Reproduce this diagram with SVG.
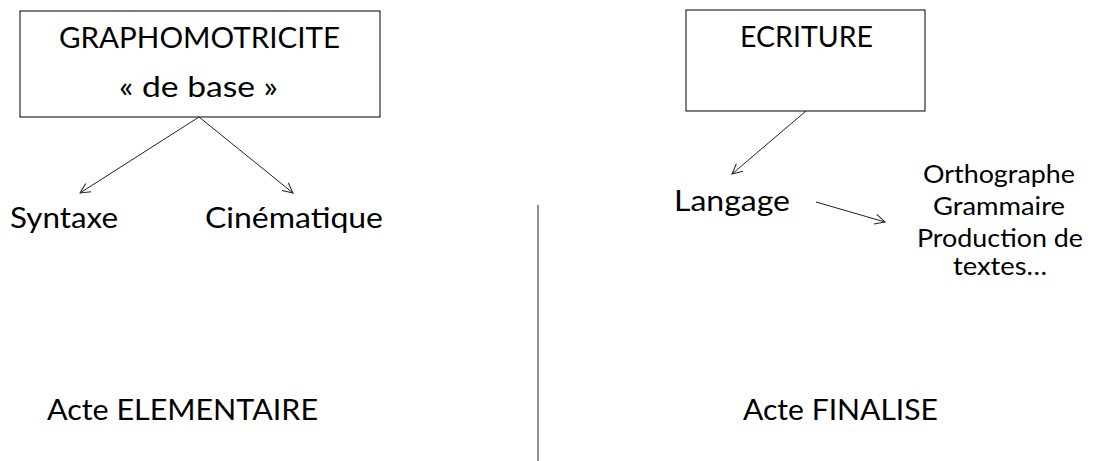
<svg xmlns="http://www.w3.org/2000/svg" width="1095" height="461" viewBox="0 0 1095 461">
<style>
text{font-family:Lato,"Open Sans","Liberation Sans",sans-serif;fill:#000}
.b{font-size:28.5px}
.s{font-size:25.5px}
.box{fill:#fff;stroke:#000;stroke-width:1}
.c{stroke:#222;stroke-width:1;fill:none}
</style>
<defs>
<marker id="ah" viewBox="0 0 12 12" refX="11" refY="6" markerWidth="12" markerHeight="12" markerUnits="userSpaceOnUse" orient="auto">
<path d="M1,1 L11,6 L1,11" fill="none" stroke="#222" stroke-width="1"/>
</marker>
</defs>
<rect width="1095" height="461" fill="#fff"/>
<g id="graphomotricite">
<rect class="box" x="20" y="11" width="360" height="106"/>
<text class="b" x="59" y="48" textLength="281" lengthAdjust="spacingAndGlyphs">GRAPHOMOTRICITE</text>
<text class="b" x="119" y="97" textLength="159" lengthAdjust="spacingAndGlyphs">« de base »</text>
</g>
<g id="syntaxe"><text class="b" x="10" y="228" textLength="108" lengthAdjust="spacingAndGlyphs">Syntaxe</text></g>
<g id="cinematique"><text class="b" x="205" y="228" textLength="178" lengthAdjust="spacingAndGlyphs">Cinématique</text></g>
<g id="ecriture">
<rect class="box" x="686" y="10" width="239" height="101"/>
<text class="b" x="740" y="47" textLength="133" lengthAdjust="spacingAndGlyphs">ECRITURE</text>
</g>
<g id="langage"><text class="b" x="674" y="211" textLength="116" lengthAdjust="spacingAndGlyphs">Langage</text></g>
<g id="liste">
<text class="s" x="923" y="183" textLength="152" lengthAdjust="spacingAndGlyphs">Orthographe</text>
<text class="s" x="933" y="215" textLength="132" lengthAdjust="spacingAndGlyphs">Grammaire</text>
<text class="s" x="917" y="247" textLength="166" lengthAdjust="spacingAndGlyphs">Production de</text>
<text class="s" x="953" y="275" textLength="94" lengthAdjust="spacingAndGlyphs">textes…</text>
</g>
<g id="acte-elementaire"><text class="b" x="47" y="420" textLength="271" lengthAdjust="spacingAndGlyphs">Acte ELEMENTAIRE</text></g>
<g id="acte-finalise"><text class="b" x="743" y="420" textLength="195" lengthAdjust="spacingAndGlyphs">Acte FINALISE</text></g>
<g id="connectors">
<line class="c" x1="199" y1="117" x2="80" y2="193" marker-end="url(#ah)"/>
<line class="c" x1="199" y1="117" x2="293" y2="193" marker-end="url(#ah)"/>
<line class="c" x1="806" y1="111" x2="732" y2="174" marker-end="url(#ah)"/>
<line class="c" x1="816" y1="202" x2="885" y2="222" marker-end="url(#ah)"/>
<line class="c" x1="538" y1="205" x2="538" y2="461"/>
</g>
</svg>
